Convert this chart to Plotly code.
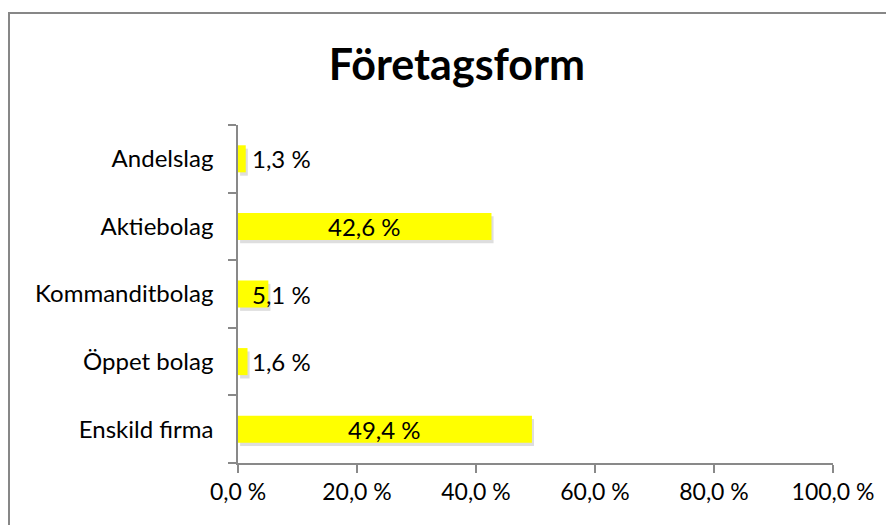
import plotly.graph_objects as go

categories = ["Enskild firma", "Öppet bolag", "Kommanditbolag", "Aktiebolag", "Andelslag"]
values = [49.4, 1.6, 5.1, 42.6, 1.3]
tick_vals = [0, 20, 40, 60, 80, 100]
tick_labels = ["0,0 %", "20,0 %", "40,0 %", "60,0 %", "80,0 %", "100,0 %"]
title_text = "Företagsform"

FONT = "Lato"
OFF = 8  # default page body margin
W, H = 894 - OFF, 525 - OFF
# plot area in page pixels: x 238..833, y 125..463
L = 238 - OFF
R = W - (833 - OFF)
T = 125 - OFF
B = H - (463 - OFF)

def fmt(v):
    return f"{v:.1f}".replace(".", ",") + " %"

big = [v >= 10 for v in values]

fig = go.Figure()
# soft shadow under the bars
fig.add_trace(go.Bar(
    y=categories, x=values, orientation="h", base=0.35,
    width=0.4, offset=-0.25,
    marker=dict(color="rgba(0,0,0,0.13)", line=dict(width=0)),
    hoverinfo="skip",
))
fig.add_trace(go.Bar(
    y=categories, x=values, orientation="h",
    width=0.4, offset=-0.2,
    marker=dict(color="#FFFF00", line=dict(width=0)),
    hoverinfo="skip",
))

for c, v, b in zip(categories, values, big):
    if b:
        fig.add_annotation(x=v / 2, y=c, xref="x", yref="y", text=fmt(v),
                           showarrow=False, xanchor="center",
                           font=dict(family=FONT, size=24, color="#000000"))
    else:
        fig.add_annotation(x=0, y=c, xref="x", yref="y", text=fmt(v),
                           showarrow=False, xanchor="left", xshift=12,
                           font=dict(family=FONT, size=24, color="#000000"))

pw = W - L - R
ph = H - T - B
def px_x(p): return (p - OFF - L) / pw
def px_y(p): return (H - B - (p - OFF)) / ph

fig.add_shape(type="rect", xref="paper", yref="paper",
              x0=px_x(9), x1=px_x(910), y0=px_y(545), y1=px_y(13),
              line=dict(color="#878787", width=2), fillcolor="rgba(0,0,0,0)", layer="below")

fig.update_layout(
    width=W, height=H,
    margin=dict(l=L, r=R, t=T, b=B),
    paper_bgcolor="white", plot_bgcolor="white",
    showlegend=False,
    barmode="overlay",
    title=dict(text="<b>" + title_text + "</b>", xref="container", x=(457 - OFF) / W, xanchor="center",
               yref="container", y=1 - (65 - OFF) / H, yanchor="middle",
               font=dict(family=FONT, size=43, color="#000000")),
    font=dict(family=FONT, size=24, color="#000000"),
    xaxis=dict(range=[0, 100], tickvals=tick_vals, ticktext=tick_labels,
               showgrid=False, zeroline=False, showline=True, linecolor="#898989", linewidth=1.5,
               ticks="outside", ticklen=8, tickcolor="#898989", tickwidth=1.5,
               tickfont=dict(family=FONT, size=23, color="#000000"), fixedrange=True),
    yaxis=dict(type="category", categoryorder="array", categoryarray=categories,
               showgrid=False, zeroline=False, showline=True, linecolor="#898989", linewidth=1.5,
               ticks="outside", ticklen=8, tickcolor="#898989", tickwidth=1.5,
               tickson="boundaries", ticklabelstandoff=18,
               tickfont=dict(family=FONT, size=24, color="#000000"), fixedrange=True),
)

fig.write_html("out.html")
